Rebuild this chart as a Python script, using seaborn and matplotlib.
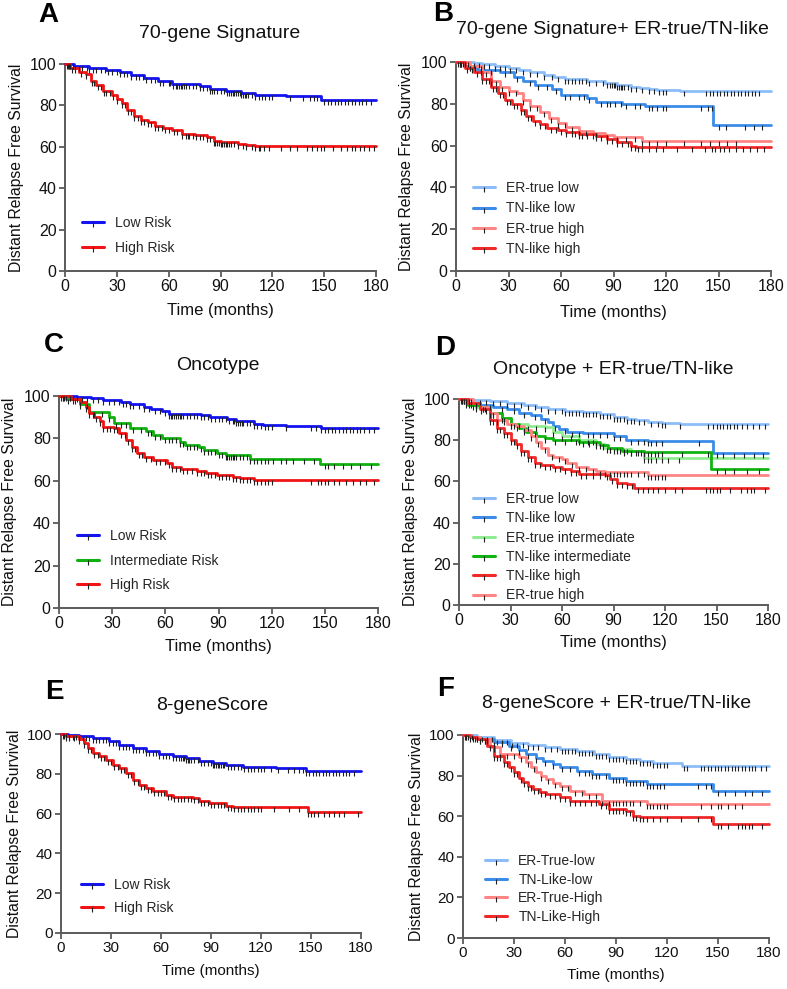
import numpy as np
import pandas as pd
import matplotlib
matplotlib.use("Agg")
import matplotlib.pyplot as plt
import seaborn as sns
from matplotlib.lines import Line2D

sns.set_theme(style="ticks")
plt.rcParams['font.family'] = ['Liberation Sans', 'DejaVu Sans']

# ---------------- colours ----------------
BLUE = "#1414F0"
RED = "#F01414"
GREEN = "#10B010"
LBLUE = "#8CBDF8"
MBLUE = "#3B8CE8"
LRED = "#FF8484"
MRED = "#F02828"
LGREEN = "#90EC90"
DGREEN = "#10B410"

# ---------------- Panel A : 70-gene Signature ----------------
A_low_t = [0, 5, 14, 24, 32, 38, 46, 54, 62, 78, 84, 93, 102, 110, 128, 148, 180]
A_low_s = [100, 99, 98, 97, 96, 94.5, 93, 92, 90.5, 89.5, 88, 87, 86, 85, 84.5, 82.5, 82.5]
A_high_t = [0, 3, 8, 12, 15, 18, 22, 27, 30, 33, 36, 40, 44, 48, 52, 57, 62, 68, 75, 82, 86, 90, 100, 105, 110, 180]
A_high_s = [100, 98, 96, 95, 92, 90, 87, 85, 83, 81, 78, 75, 73, 72, 70, 69, 68, 66, 65.5, 64.5, 63, 62.5, 61.5, 61, 60.2, 60.2]
A_low_c = [1.5, 3, 4.5, 6, 8, 10, 12.5, 14, 16, 18, 21, 23, 25, 27, 30, 32, 34, 36, 38, 41, 43, 45, 47, 50, 52, 55, 57, 60, 61, 62.5, 64, 65, 66, 67, 68, 69, 70, 72, 74, 76, 78, 80, 82, 84, 85, 86, 88, 90, 92, 94, 95, 96, 97, 98, 99, 100, 101, 102, 103, 104, 105, 106, 108, 110, 112, 114, 116, 118, 120, 130, 138, 142, 144, 146, 150, 152, 154, 156, 158, 160, 162, 164, 166, 168, 170, 172, 174, 177]
A_high_c = [1, 2.5, 4, 6, 9, 12, 15.5, 17, 19, 21, 22.5, 24, 26, 28, 30, 33, 35, 36.5, 38, 40, 42, 44, 46, 48, 50, 52, 54, 56, 58, 60, 63, 65, 68, 70, 71, 72, 74, 76, 78, 80, 82, 84, 86, 87, 88, 89, 90, 91, 92, 93, 94, 95, 96, 98, 100, 103, 105, 108, 110, 112, 113, 115, 118, 125, 130, 134, 140, 143, 146, 148, 150, 155, 160, 163, 166, 168, 171, 173, 176, 179]

# ---------------- Panel B : 70-gene + ER-true/TN-like ----------------
B_ertl_t = [0, 10, 15, 22, 30, 36, 42, 50, 56, 62, 75, 85, 92, 100, 105, 110, 115, 128, 180]
B_ertl_s = [100, 99.5, 99, 98, 97, 96, 95, 94, 93, 92, 91, 90, 89, 88, 87.5, 87, 86.5, 86, 86]
B_tnl_t = [0, 5, 12, 25, 33, 38, 45, 55, 60, 75, 80, 95, 108, 147, 180]
B_tnl_s = [100, 98, 96, 95, 93, 91, 89, 87, 84, 83, 81, 80, 79, 70, 70]
B_erth_t = [0, 8, 15, 20, 25, 30, 35, 38, 42, 48, 53, 58, 63, 70, 78, 85, 90, 106, 180]
B_erth_s = [100, 98, 95, 91, 88, 86, 85, 82, 79, 76, 73, 71, 69, 67, 66, 65, 64, 62, 62]
B_tnh_t = [0, 5, 10, 15, 20, 24, 28, 32, 37, 40, 44, 48, 52, 58, 63, 70, 80, 86, 92, 100, 103, 180]
B_tnh_s = [100, 97, 95, 92, 88, 85, 82, 80, 77, 74, 72, 70.5, 68.5, 67.5, 66.5, 65.5, 64.5, 63, 61.5, 60, 59.5, 59.5]
B_ertl_c = [2, 4, 7, 10, 13, 16, 19, 22, 25, 28, 31, 34, 38, 42, 46, 50, 55, 58, 62, 64, 66, 68, 70, 72, 74, 76, 80, 84, 86, 88, 89, 90, 91, 92, 93, 94, 95, 96, 98, 100, 103, 106, 110, 113, 116, 118, 120, 130, 143, 145, 147, 149, 151, 153, 155, 157, 159, 161, 163, 165, 167, 169, 171, 173]
B_tnl_c = [3, 8, 14, 20, 28, 35, 42, 47, 52, 57, 62, 65, 70, 73, 76, 83, 86, 88, 91, 94, 97, 102, 105, 110, 112, 115, 118, 120, 140, 144, 146, 150, 154, 165, 170, 175]
B_erth_c = [2, 5, 8, 11, 14, 17, 20, 23, 26, 30, 34, 38, 42, 46, 50, 54, 58, 62, 66, 70, 74, 80, 86, 92, 97, 102, 106, 110, 115, 120, 130, 140, 145, 150, 155, 160]
B_tnh_c = [1, 3, 6, 9, 12, 15, 17, 19, 21, 23, 25, 27, 29, 31, 33, 35, 37, 39, 41, 43, 45, 48, 51, 54, 57, 60, 63, 66, 68, 70, 72, 75, 78, 80, 83, 86, 89, 92, 95, 98, 100, 102, 104, 106, 110, 114, 118, 126, 135, 142, 146, 148, 151, 153, 156, 160, 164, 168, 172, 176]

# ---------------- Panel C : Oncotype ----------------
C_low_t = [0, 10, 18, 25, 35, 40, 48, 52, 58, 62, 80, 85, 95, 100, 110, 115, 128, 148, 180]
C_low_s = [100, 99.5, 99, 98, 97, 96, 95, 94, 93, 91.5, 91, 90, 89, 88, 87, 86.5, 86, 85, 85]
C_int_t = [0, 4, 12, 17, 28, 31, 40, 49, 53, 58, 68, 71, 79, 82, 89, 94, 108, 147, 180]
C_int_s = [100, 98.5, 96, 92.5, 90, 87.5, 85, 83.5, 81.5, 80, 78.5, 77, 76, 74.5, 73.3, 72.2, 70.5, 67.8, 67.8]
C_high_t = [0, 7, 12, 15, 17, 20, 23, 25, 31, 34, 38, 41, 44, 48, 53, 61, 64, 69, 78, 83, 89, 98, 102, 110, 180]
C_high_s = [100, 98.5, 97.3, 95, 92, 90.3, 88, 85.6, 84.8, 82.4, 79.3, 76, 73, 71.4, 69.8, 68.3, 66.7, 65.5, 64.8, 63.6, 62.6, 62, 61.2, 60.2, 60.2]
C_low_c = [2, 4, 6, 8, 10, 13, 16, 19, 22, 25, 28, 31, 34, 36, 38, 40, 42, 45, 48, 51, 54, 57, 60, 62, 63, 64, 65, 66, 67, 68, 69, 70, 72, 74, 76, 78, 80, 82, 84, 86, 88, 90, 92, 94, 96, 98, 99, 100, 101, 102, 103, 104, 106, 108, 110, 112, 114, 116, 118, 120, 128, 142, 145, 148, 150, 152, 154, 156, 158, 160, 162, 164, 166, 168, 170, 172, 175, 178]
C_int_c = [2, 5, 8, 12, 16, 20, 24, 28, 32, 35, 38, 42, 46, 50, 52, 54, 57, 60, 62, 64, 66, 68, 70, 72, 74, 76, 78, 80, 82, 84, 86, 88, 90, 92, 94, 95, 96, 97, 98, 99, 100, 102, 104, 106, 108, 110, 112, 114, 116, 118, 121, 125, 128, 132, 138, 144, 150, 152, 155, 160, 165, 170, 176]
C_high_c = [1, 3, 6, 9, 12, 15, 17, 19, 21, 23, 25, 27, 29, 31, 33, 35, 37, 39, 41, 43, 45, 47, 49, 52, 55, 57, 60, 62, 64, 66, 68, 70, 72, 75, 78, 80, 82, 84, 86, 88, 90, 92, 94, 96, 98, 100, 102, 104, 106, 108, 110, 112, 114, 116, 118, 120, 142, 146, 148, 150, 152, 155, 158, 162, 166, 170, 173, 178]

# ---------------- Panel D : Oncotype + ER-true/TN-like ----------------
D_ertl_t = [0, 8, 12, 18, 28, 38, 45, 52, 62, 72, 82, 90, 98, 103, 110, 118, 129, 180]
D_ertl_s = [100, 99.6, 99.3, 98.8, 98, 97, 96, 95, 94, 93.5, 92.5, 91.5, 90.5, 90, 89, 88.5, 87.8, 87.8]
D_tnl_t = [0, 4, 8, 20, 28, 35, 42, 48, 52, 55, 58, 63, 72, 90, 97, 110, 148, 180]
D_tnl_s = [100, 98, 97, 96, 95, 93, 92, 90.5, 89, 87, 85.5, 84, 83.5, 82, 80, 79.5, 74, 74]
D_erti_t = [0, 3, 10, 18, 25, 30, 40, 50, 55, 60, 70, 80, 85, 90, 100, 108, 180]
D_erti_s = [100, 98, 96, 93, 91, 88, 87, 86.5, 84, 82, 80, 78, 76, 75.5, 75, 71.5, 71.5]
D_tni_t = [0, 5, 12, 18, 25, 30, 35, 39, 45, 50, 55, 70, 82, 87, 95, 108, 147, 180]
D_tni_s = [100, 97, 96, 93, 91, 88, 86, 84, 82, 81, 80, 79, 77.5, 76, 75, 74.5, 66, 66]
D_tnh_t = [0, 5, 12, 18, 22, 26, 30, 33, 36, 40, 44, 48, 55, 60, 65, 70, 85, 88, 92, 98, 102, 180]
D_tnh_s = [100, 98, 95, 90, 86, 83.5, 80, 78, 75, 72, 69, 68, 67, 66, 65, 63.5, 63, 61, 59, 58.5, 57, 57]
D_erth_t = [0, 8, 12, 18, 22, 28, 33, 38, 42, 45, 48, 52, 55, 60, 63, 68, 75, 80, 85, 110, 180]
D_erth_s = [100, 98, 96, 93, 90, 88, 87, 85, 82, 79, 76, 73, 72, 71, 69, 67, 66, 65, 64.5, 63.3, 63.3]
D_ertl_c = [3, 7, 12, 16, 20, 24, 28, 32, 36, 40, 44, 48, 52, 56, 60, 62, 64, 66, 68, 70, 72, 74, 76, 78, 80, 82, 84, 86, 88, 90, 92, 94, 96, 98, 100, 102, 105, 108, 112, 116, 118, 120, 129, 145, 148, 150, 152, 154, 156, 158, 160, 162, 165, 168, 171, 175, 178]
D_tnl_c = [4, 10, 18, 25, 32, 38, 44, 50, 56, 62, 66, 70, 75, 78, 82, 86, 90, 94, 100, 104, 108, 110, 112, 115, 118, 140, 150, 154, 160, 166, 172, 177]
D_erti_c = [2, 6, 10, 15, 20, 25, 30, 35, 40, 45, 50, 55, 60, 65, 70, 75, 78, 80, 82, 84, 86, 88, 90, 92, 94, 96, 98, 100, 104, 108, 110, 112, 115, 118, 122, 128]
D_tni_c = [3, 8, 14, 20, 26, 32, 38, 44, 50, 56, 62, 68, 72, 76, 80, 84, 88, 92, 96, 100, 103, 106, 108, 110, 112, 114, 116, 118, 130, 145, 150, 155, 160, 168, 175]
D_tnh_c = [1, 4, 7, 10, 13, 16, 18, 20, 22, 24, 26, 28, 30, 32, 34, 36, 38, 40, 42, 44, 47, 50, 53, 56, 59, 62, 65, 68, 71, 74, 78, 82, 86, 89, 92, 95, 98, 101, 104, 107, 110, 113, 116, 120, 126, 130, 144, 146, 148, 150, 152, 158, 164, 168, 170, 172, 178]
D_erth_c = [2, 6, 10, 14, 18, 22, 26, 30, 34, 38, 42, 46, 50, 54, 58, 62, 66, 70, 74, 78, 82, 85, 88, 90, 92, 94, 96, 98, 100, 104, 108, 110, 112, 114, 116, 118, 120]

# ---------------- Panel E : 8-geneScore ----------------
E_low_t = [0, 4, 11, 19, 29, 35, 43, 51, 59, 67, 75, 83, 91, 99, 109, 129, 147, 180]
E_low_s = [100, 99.5, 99, 98, 96.5, 94.5, 93, 91.5, 90, 88.8, 88, 86.5, 85.3, 84.3, 83.4, 82.8, 81.2, 81.2]
E_high_t = [0, 3, 11, 14, 16, 19, 23, 27, 31, 35, 39, 43, 47, 51, 55, 63, 67, 79, 83, 89, 99, 103, 148, 180]
E_high_s = [100, 98.8, 97.6, 95.5, 93, 90.5, 88.8, 86.8, 84.6, 83, 80.4, 77, 74.2, 72.9, 71.2, 69.5, 68.3, 67.8, 66.2, 65.3, 63.7, 63.1, 60.8, 60.8]
E_low_c = [1.5, 3, 5, 7, 9, 11, 13, 15, 17, 19, 21, 23, 25, 27, 29, 31, 33, 35, 37, 39, 41, 43, 45, 47, 49, 51, 53, 55, 57, 59, 61, 63, 65, 67, 69, 71, 72, 73, 74, 75, 76, 77, 78, 80, 82, 84, 86, 88, 90, 91, 92, 93, 94, 95, 96, 97, 98, 100, 102, 104, 106, 108, 110, 112, 114, 116, 118, 120, 122, 126, 130, 136, 140, 143, 145, 147, 149, 151, 153, 155, 157, 159, 161, 163, 165, 167, 169, 171, 173, 176]
E_high_c = [1, 3, 5, 8, 11, 14, 16, 18, 20, 22, 24, 26, 28, 30, 32, 34, 36, 38, 40, 42, 44, 46, 48, 50, 52, 54, 56, 58, 60, 62, 64, 66, 68, 70, 72, 74, 76, 78, 80, 82, 84, 86, 88, 90, 92, 94, 96, 98, 100, 102, 104, 106, 108, 110, 112, 114, 116, 118, 120, 128, 137, 143, 148, 150, 152, 154, 158, 161, 164, 167, 170, 178]

# ---------------- Panel F : 8-geneScore + ER-true/TN-like ----------------
F_ertl_t = [0, 8, 18, 28, 38, 48, 57, 67, 77, 86, 96, 104, 112, 129, 180]
F_ertl_s = [100, 99, 97.5, 96, 95, 94, 93, 92, 90.6, 89, 88, 87, 86, 84.7, 84.7]
F_tnl_t = [0, 5, 10, 18, 27, 33, 37, 43, 47, 53, 57, 67, 76, 86, 96, 108, 147, 180]
F_tnl_s = [100, 99, 98, 96.5, 94.7, 92.5, 90.6, 88.5, 87.4, 85.5, 84, 82.4, 81, 79, 77.5, 75.9, 72.5, 72.5]
F_erth_t = [0, 5, 10, 16, 22, 33, 37, 40, 43, 46, 49, 53, 57, 63, 71, 82, 108, 180]
F_erth_s = [100, 99, 98, 94, 90.6, 89, 86.5, 84, 81.6, 80, 78.3, 76.5, 75, 72.6, 71, 67.7, 66, 66]
F_tnh_t = [0, 4, 8, 14, 18, 24, 27, 30, 33, 35.5, 38, 41, 45, 49, 57, 63, 80, 86, 96, 100, 104, 147, 180]
F_tnh_s = [100, 99, 98, 94.7, 89.8, 86.5, 84, 81.6, 79, 76.7, 75, 73.4, 72, 71, 69.3, 67.7, 66, 63.5, 62.7, 60.3, 59.4, 56.2, 56.2]
F_ertl_c = [2, 5, 8, 11, 14, 17, 20, 23, 26, 29, 32, 35, 38, 41, 44, 48, 52, 55, 58, 60, 62, 64, 66, 68, 70, 72, 74, 76, 78, 80, 82, 84, 86, 88, 90, 92, 94, 96, 98, 100, 102, 104, 106, 108, 110, 112, 114, 116, 118, 120, 130, 132, 140, 142, 144, 146, 148, 150, 152, 154, 156, 158, 160, 162, 164, 166, 168, 170, 172, 175, 178]
F_tnl_c = [3, 8, 13, 18, 23, 28, 33, 38, 43, 48, 53, 58, 63, 68, 72, 74, 76, 78, 80, 84, 88, 90, 92, 94, 96, 98, 100, 102, 104, 106, 108, 110, 112, 114, 116, 118, 138, 143, 146, 150, 154, 160, 166, 170, 176]
F_erth_c = [2, 6, 10, 14, 18, 22, 26, 30, 34, 38, 42, 46, 50, 54, 58, 62, 66, 70, 74, 78, 82, 86, 88, 90, 92, 94, 96, 98, 100, 104, 108, 110, 112, 114, 116, 118, 120, 140, 146, 150, 152, 156, 160, 164]
F_tnh_c = [1, 4, 7, 10, 13, 16, 18, 20, 22, 24, 26, 28, 30, 32, 34, 36, 38, 40, 42, 44, 46, 48, 51, 54, 57, 60, 63, 66, 69, 72, 75, 78, 81, 84, 86, 88, 90, 92, 94, 96, 98, 100, 102, 104, 106, 108, 112, 116, 120, 128, 138, 146, 150, 152, 156, 162, 164, 166, 168, 170, 176]

x_ticks = [0, 30, 60, 90, 120, 150, 180]
y_ticks = [0, 20, 40, 60, 80, 100]

W, H = 787, 989
fig = plt.figure(figsize=(W / 100, H / 100), dpi=100)
fig.patch.set_facecolor("white")

AX_COL = "#5a5a5a"
CENS = "#202020"


def px(x, y):
    return x / W, 1 - y / H


def add_ax(l, r, t, b):
    return fig.add_axes([l / W, 1 - b / H, (r - l) / W, (b - t) / H])


def km(ax, t, s, c, color):
    df = pd.DataFrame({"t": t, "s": s})
    sns.lineplot(data=df, x="t", y="s", ax=ax, color=color, lw=2.0,
                 drawstyle="steps-post", estimator=None, legend=False,
                 clip_on=False, zorder=3)
    tt = np.asarray(t)
    ss = np.asarray(s)
    cc = np.asarray(c)
    idx = np.searchsorted(tt, cc, side="right") - 1
    ax.plot(cc, ss[idx], ls="none", marker=3, ms=3.6, mew=0.8,
            color=CENS, zorder=4, clip_on=False)


def style(ax, xl_y, yl_x, tick_fs, xl_fs):
    ax.set_xlim(0, 180)
    ax.set_ylim(0, 100)
    ax.set_xticks(x_ticks)
    ax.set_yticks(y_ticks)
    for sp in ["top", "right"]:
        ax.spines[sp].set_visible(False)
    for sp in ["left", "bottom"]:
        ax.spines[sp].set_color(AX_COL)
        ax.spines[sp].set_linewidth(1.4)
    ax.tick_params(axis="both", length=4.5, width=1.3, color=AX_COL,
                   labelsize=tick_fs, labelcolor="#111111", pad=1.5)
    ax.set_xlabel("Time (months)", fontsize=xl_fs, color="#111111", va="center")
    ax.set_ylabel("Distant Relapse Free Survival", fontsize=11.3,
                  color="#111111", va="center")
    bb = ax.get_position()
    ax.xaxis.set_label_coords((bb.x0 + bb.x1) / 2, 1 - xl_y / H,
                              transform=fig.transFigure)
    ax.yaxis.set_label_coords(yl_x / W, (bb.y0 + bb.y1) / 2,
                              transform=fig.transFigure)
    ax.set_facecolor("white")


def legend(ax, colors, labels, x, y, spacing):
    hs = [Line2D([0], [0], color=c, lw=2.2, marker=3, ms=3.6, mew=0.8,
                 mec=CENS) for c in colors]
    ax.legend(hs, labels, loc="upper left", bbox_to_anchor=px(x, y),
              bbox_transform=fig.transFigure, frameon=False, fontsize=10,
              handlelength=1.55, handletextpad=0.85, labelspacing=spacing,
              borderpad=0, borderaxespad=0)


def heading(letter, lx, ly, title, tx, ty):
    fig.text(*px(lx, ly), letter, fontsize=20, fontweight="bold",
             ha="center", va="center", color="#000000")
    fig.text(*px(tx, ty), title, fontsize=14, ha="center", va="center",
             color="#111111")


# ---- A
axA = add_ax(65, 376, 64, 271)
km(axA, A_low_t, A_low_s, A_low_c, BLUE)
km(axA, A_high_t, A_high_s, A_high_c, RED)
style(axA, 310, 17, 11.5, 12)
legend(axA, [BLUE, RED], ["Low Risk", "High Risk"], 82, 216, 0.8)
heading("A", 48, 15, "70-gene Signature", 220, 33)

# ---- B
axB = add_ax(456, 771, 62, 271)
km(axB, B_ertl_t, B_ertl_s, B_ertl_c, LBLUE)
km(axB, B_tnl_t, B_tnl_s, B_tnl_c, MBLUE)
km(axB, B_erth_t, B_erth_s, B_erth_c, LRED)
km(axB, B_tnh_t, B_tnh_s, B_tnh_c, MRED)
style(axB, 312, 407, 11.5, 12)
legend(axB, [LBLUE, MBLUE, LRED, MRED],
       ["ER-true low", "TN-like low", "ER-true high", "TN-like high"],
       473, 181, 0.46)
heading("B", 443, 14, "70-gene Signature+ ER-true/TN-like", 612, 29)

# ---- C
axC = add_ax(59, 378, 396, 608)
km(axC, C_low_t, C_low_s, C_low_c, BLUE)
km(axC, C_int_t, C_int_s, C_int_c, GREEN)
km(axC, C_high_t, C_high_s, C_high_c, RED)
style(axC, 647, 10, 11.5, 12)
legend(axC, [BLUE, GREEN, RED], ["Low Risk", "Intermediate Risk", "High Risk"],
       77, 529, 0.76)
heading("C", 54, 345, "Oncotype", 218, 365)

# ---- D
axD = add_ax(459, 768, 399, 605)
km(axD, D_ertl_t, D_ertl_s, D_ertl_c, LBLUE)
km(axD, D_tnl_t, D_tnl_s, D_tnl_c, MBLUE)
km(axD, D_erti_t, D_erti_s, D_erti_c, LGREEN)
km(axD, D_tni_t, D_tni_s, D_tni_c, DGREEN)
km(axD, D_erth_t, D_erth_s, D_erth_c, LRED)
km(axD, D_tnh_t, D_tnh_s, D_tnh_c, MRED)
style(axD, 643, 411, 11.5, 12)
legend(axD, [LBLUE, MBLUE, LGREEN, DGREEN, MRED, LRED],
       ["ER-true low", "TN-like low", "ER-true intermediate",
        "TN-like intermediate", "TN-like high", "ER-true high"],
       473, 492, 0.38)
heading("D", 445, 348, "Oncotype + ER-true/TN-like", 613, 370)

# ---- E
axE = add_ax(61, 361, 734, 933)
km(axE, E_low_t, E_low_s, E_low_c, BLUE)
km(axE, E_high_t, E_high_s, E_high_c, RED)
style(axE, 971, 15, 11, 11)
legend(axE, [BLUE, RED], ["Low Risk", "High Risk"], 81, 878, 0.65)
heading("E", 54, 692, "8-geneScore", 212, 705)

# ---- F
axF = add_ax(463, 769, 735, 938)
km(axF, F_ertl_t, F_ertl_s, F_ertl_c, LBLUE)
km(axF, F_tnl_t, F_tnl_s, F_tnl_c, MBLUE)
km(axF, F_erth_t, F_erth_s, F_erth_c, LRED)
km(axF, F_tnh_t, F_tnh_s, F_tnh_c, MRED)
style(axF, 975, 416, 11, 11)
legend(axF, [LBLUE, MBLUE, LRED, MRED],
       ["ER-True-low", "TN-Like-low", "ER-True-High", "TN-Like-High"],
       485, 854, 0.33)
heading("F", 446, 689, "8-geneScore + ER-true/TN-like", 617, 703)

fig.savefig("out.png", dpi=100, facecolor="white")
